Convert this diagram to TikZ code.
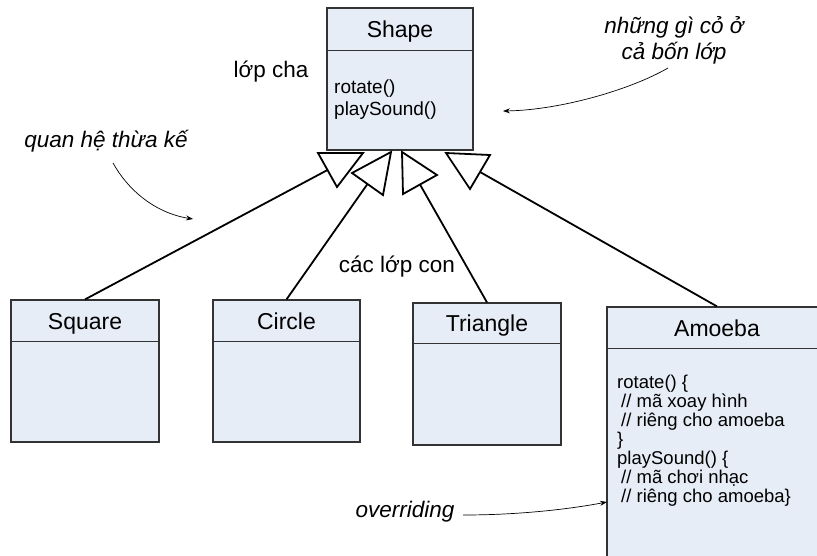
\documentclass[tikz,border=0pt]{standalone}
\usepackage{fontspec}
\setmainfont{Liberation Sans}
\usetikzlibrary{arrows.meta,shadows}

\definecolor{boxfill}{RGB}{231,237,247}

\begin{document}
\begin{tikzpicture}[x=1pt,y=-1pt]

\def\classname{\fontsize{23}{27}\selectfont}
\def\opstext{\fontsize{19}{22}\selectfont}
\def\codetext{\fontsize{18.5}{19}\selectfont}
\def\labeltext{\fontsize{22.5}{26}\selectfont}
\def\notetext{\fontsize{22.5}{26}\selectfont\itshape}

\tikzset{classbox/.style = {draw=black!80, fill=boxfill, line width=1.2pt, inner sep=0pt,
           drop shadow={shadow xshift=1.2pt, shadow yshift=-1.2pt, fill=black!45, opacity=1}},
         divider/.style = {draw=black!80, line width=1.2pt},
         title/.style = {font=\classname, anchor=base},
         inherit/.style = {line width=1.8pt},
         hollowtip/.style = {draw, fill=white, line width=1.8pt, line join=miter},
         note/.style = {-{Stealth[length=7pt,width=5pt]}, line width=0.7pt}}

\useasboundingbox (0,0) rectangle (817,555);

% parent class
\node[classbox, minimum width=146pt, minimum height=142pt] (shape) at (400,79) {};
\draw[divider] ([yshift=-43pt]shape.north west) -- ([yshift=-43pt]shape.north east);
\node[title] (shape-name) at (400,37) {Shape};
\node[font=\opstext, anchor=west, align=left, inner xsep=0pt] (shape-ops) at (334,100) {rotate()\\playSound()};

% child classes
\node[classbox, minimum width=148pt, minimum height=142pt] (square) at (85,371) {};
\draw[divider] ([yshift=-42pt]square.north west) -- ([yshift=-42pt]square.north east);
\node[title] (square-name) at (85,329) {Square};

\node[classbox, minimum width=147pt, minimum height=142pt] (circle) at (286.5,371) {};
\draw[divider] ([yshift=-42pt]circle.north west) -- ([yshift=-42pt]circle.north east);
\node[title] (circle-name) at (286.5,329) {Circle};

\node[classbox, minimum width=148pt, minimum height=142pt] (triangle) at (487,374) {};
\draw[divider] ([yshift=-41pt]triangle.north west) -- ([yshift=-41pt]triangle.north east);
\node[title] (triangle-name) at (487,331.5) {Triangle};

\node[classbox, minimum width=220pt, minimum height=258pt] (amoeba) at (717,436) {};
\draw[divider] ([yshift=-42pt]amoeba.north west) -- ([yshift=-42pt]amoeba.north east);
\node[title] (amoeba-name) at (717,336) {Amoeba};
\node[font=\codetext, anchor=west, align=left, inner xsep=0pt] (amoeba-ops) at (617,441)
  {rotate() \{\\\hspace*{4pt}// mã xoay hình\\\hspace*{4pt}// riêng cho amoeba\\\}\\%
   playSound() \{\\\hspace*{4pt}// mã chơi nhạc\\\hspace*{4pt}// riêng cho amoeba\}};

% inheritance lines
\coordinate (tip-square) at (327.5,170);
\coordinate (tip-circle) at (367.5,184);
\coordinate (tip-triangle) at (420,184.5);
\coordinate (tip-amoeba) at (480,172);
\draw[inherit] (square.north) -- (tip-square);
\draw[inherit] (circle.north) -- (tip-circle);
\draw[inherit] (triangle.north) -- (tip-triangle);
\draw[inherit] (amoeba.north) -- (tip-amoeba);
\draw[hollowtip] (318,153) -- (363,153) -- (337,187) -- cycle;
\draw[hollowtip] (391,152) -- (352,173) -- (383,195) -- cycle;
\draw[hollowtip] (402,152) -- (437,175) -- (403,194) -- cycle;
\draw[hollowtip] (446,153) -- (490,155) -- (470,189) -- cycle;

% labels
\node[font=\labeltext] (parent-label) at (271,72) {lớp cha};
\node[font=\labeltext] (child-label) at (397,267) {các lớp con};
\node[font=\notetext] (inherit-note) at (106,141) {quan hệ thừa kế};
\node[font=\notetext, align=center] (common-note) at (674,40) {những gì cỏ ở\\cả bốn lớp};
\node[font=\notetext] (override-note) at (405,512) {overriding};

% pointer arrows
\coordinate (inherit-from) at (113,163);
\coordinate (inherit-to) at (193,219);
\draw[note] (inherit-from) .. controls (128,190) and (155,213) .. (inherit-to);
\coordinate (common-from) at (668,68);
\coordinate (common-to) at (503,111);
\draw[note] (common-from) .. controls (630,90) and (560,110) .. (common-to);
\coordinate (override-from) at (463,515);
\coordinate (override-to) at (607,502);
\draw[note] (override-from) .. controls (520,515) and (570,509) .. (override-to);

\end{tikzpicture}
\end{document}
